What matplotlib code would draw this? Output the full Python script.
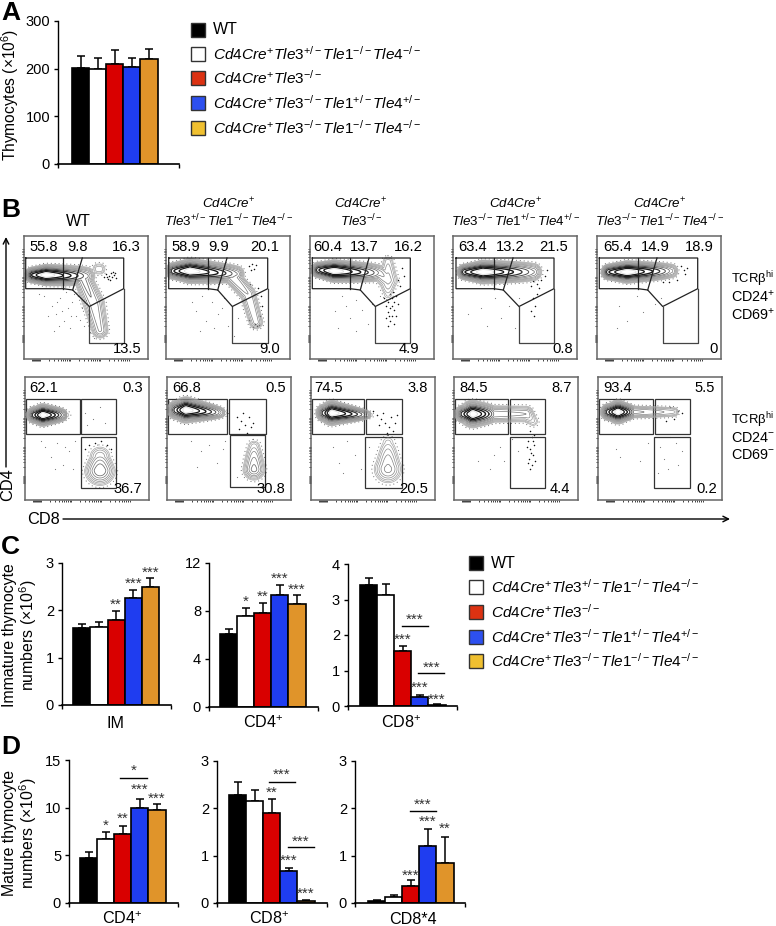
import numpy as np
import matplotlib
matplotlib.use("Agg")
import matplotlib.pyplot as plt
from matplotlib.patches import Rectangle

plt.rcParams["font.family"] = ["Liberation Sans", "DejaVu Sans"]
plt.rcParams["mathtext.fontset"] = "custom"
plt.rcParams["mathtext.rm"] = "Liberation Sans"
plt.rcParams["mathtext.it"] = "Liberation Sans:italic"
plt.rcParams["mathtext.bf"] = "Liberation Sans:bold"

W, H = 776, 926

# ---- genotype labels
wt = "WT"
g_het = r"$\mathit{Cd4Cre}^{+}\mathit{Tle3}^{+/-}\mathit{Tle1}^{-/-}\mathit{Tle4}^{-/-}$"
g_ko3 = r"$\mathit{Cd4Cre}^{+}\mathit{Tle3}^{-/-}$"
g_dbl = r"$\mathit{Cd4Cre}^{+}\mathit{Tle3}^{-/-}\mathit{Tle1}^{+/-}\mathit{Tle4}^{+/-}$"
g_tko = r"$\mathit{Cd4Cre}^{+}\mathit{Tle3}^{-/-}\mathit{Tle1}^{-/-}\mathit{Tle4}^{-/-}$"
legend_labels = [wt, g_het, g_ko3, g_dbl, g_tko]

bar_colors = ["#000000", "#ffffff", "#d90000", "#1f3df0", "#e0942a"]
legend_colors = ["#000000", "#ffffff", "#dc3212", "#2d50f0", "#f0c030"]

# ---- panel A
a_vals = [201, 199, 209, 203, 220]
a_tops = [226, 222, 240, 222, 242]

# ---- panel C
c_im_vals = [1.62, 1.64, 1.79, 2.26, 2.49]
c_im_tops = [1.72, 1.75, 1.98, 2.42, 2.68]
c_cd4_vals = [6.1, 7.6, 7.85, 9.35, 8.55]
c_cd4_tops = [6.5, 8.25, 8.65, 10.15, 9.3]
c_cd8_vals = [3.4, 3.13, 1.54, 0.25, 0.03]
c_cd8_tops = [3.6, 3.43, 1.7, 0.3, 0.05]

# ---- panel D
d_cd4_vals = [4.7, 6.75, 7.2, 9.95, 9.75]
d_cd4_tops = [5.3, 7.45, 8.1, 10.9, 10.35]
d_cd8_vals = [2.28, 2.15, 1.9, 0.68, 0.04]
d_cd8_tops = [2.55, 2.38, 2.2, 0.74, 0.06]
d_cd84_vals = [0.05, 0.13, 0.35, 1.21, 0.85]
d_cd84_tops = [0.07, 0.17, 0.48, 1.57, 1.4]

# ---- panel B percentages, (text, x inside frame)
top_row_pcts = [
    [("55.8", 19.3), ("9.8", 53), ("16.3", 102), ("13.5", 103)],
    [("58.9", 19.7), ("9.9", 52.7), ("20.1", 99), ("9.0", 103.7)],
    [("60.4", 18), ("13.7", 54.7), ("16.2", 98), ("4.9", 98.7)],
    [("63.4", 20), ("13.2", 57), ("21.5", 100.7), ("0.8", 110)],
    [("65.4", 20.7), ("14.9", 58), ("18.9", 102.7), ("0", 116.3)],
]
bottom_row_pcts = [
    [("62.1", 19), ("0.3", 107.7), ("36.7", 103.3)],
    [("66.8", 19.3), ("0.5", 108.7), ("30.8", 104.3)],
    [("74.5", 17.7), ("3.8", 106.7), ("20.5", 102.7)],
    [("84.5", 19.7), ("8.7", 107.3), ("4.4", 106)],
    [("93.4", 20), ("5.5", 106.7), ("0.2", 108.3)],
]

# gates, in pixels inside each frame
top_gates = [
    (1.7, 39.3, 58.3, 48.7, 65.3, 99.7),
    (2.7, 42.3, 61, 51.7, 66.3, 101.7),
    (2.3, 40.3, 59, 50.3, 65.3, 100.3),
    (3, 41, 60, 50.3, 66, 101),
    (2.3, 41.3, 60, 50.7, 65.7, 100.7),
]
bottom_gates = [
    (1, 55, 56, 91.3, 55.7, 91.3, 59.7, 111.3),
    (1, 60, 62, 99, 63, 98, 58.3, 110),
    (1, 53, 55, 91, 54, 91, 59.7, 111.3),
    (1, 54.3, 56.3, 91.3, 55.7, 91.3, 59.7, 111.3),
    (1, 55, 57, 92, 56.3, 92, 59.7, 111.3),
]

# populations: x0, y0, x1, y1, width at start, width at end, weight at start, weight at end
top_pops = [
    [(9, 39, 22, 39, 2.8, 3.4, .55, 1), (22, 39, 62, 40, 3.4, 3.6, 1, .2), (58, 40, 70, 68, 3.6, 4.5, .2, .16),
     (70, 68, 76, 94, 4.5, 3.6, .16, .13), (74, 33, 76, 33, 3, 3, .05, .05)],
    [(8, 35, 24, 35, 3, 4, .5, 1), (24, 35, 70, 38, 4, 3.4, 1, .18), (64, 38, 82, 58, 3.4, 3.5, .18, .12),
     (82, 58, 90, 86, 3.5, 3.2, .12, .1)],
    [(9, 34, 24, 35, 2.8, 3.6, .5, 1), (24, 35, 70, 37, 3.6, 3.4, 1, .14), (78, 26, 78, 44, 3, 4.5, .05, .1),
     (70, 37, 78, 44, 3.4, 4.5, .14, .1), (78, 44, 78, 58, 4.5, 3, .1, .03)],
    [(12, 36, 30, 36, 2.8, 3.8, .5, 1), (30, 36, 80, 36, 3.8, 3.6, 1, .18)],
    [(12, 36, 30, 36, 2.8, 3.6, .5, 1), (30, 36, 74, 35, 3.6, 3, 1, .14)],
]
bottom_pops = [
    [(10, 38, 18, 38, 3, 3.6, .5, 1), (18, 38, 42, 38, 3.6, 2.4, 1, .02), (75, 80, 75, 93, 5, 6, .08, .25)],
    [(10, 33, 19, 33, 3.4, 4.2, .5, 1), (19, 33, 58, 36, 4.2, 2.2, 1, .02), (87, 70, 87, 92, 3.5, 4.5, .05, .2)],
    [(14, 36, 21, 36, 3.2, 4, .5, 1), (21, 36, 60, 38, 4, 1.8, 1, .02), (77, 66, 77, 92, 4, 6, .03, .14),
     (77, 92, 77, 99, 6, 4, .14, .05)],
    [(10, 37, 19, 37, 3.2, 4.4, .5, 1), (19, 37, 40, 37, 4.4, 3.5, 1, .16), (40, 37, 72, 37, 3.5, 3.5, .16, .12),
     (72, 37, 79, 44, 3.5, 3, .12, .04)],
    [(11, 35, 20, 35, 3, 3.8, .5, 1), (20, 35, 36, 35, 3.8, 2.6, 1, .14), (36, 35, 76, 35, 2.6, 2.4, .14, .06)],
]

# stray events, (x, y) inside each frame
top_dots = [
    [(28, 70), (32, 78), (36, 62), (40, 85), (44, 72), (48, 66), (52, 80), (55, 60), (58, 72),
     (60, 90), (35, 90), (30, 95), (46, 92), (50, 58), (62, 64), (42, 56), (38, 75), (24, 80),
     (56, 84), (64, 78), (20, 60), (15, 58), (66, 96), (70, 102), (33, 66), (47, 80)],
    [(30, 75), (36, 60), (40, 85), (46, 66), (52, 78), (58, 62), (62, 90), (34, 95), (48, 92),
     (26, 66), (66, 70), (72, 82), (68, 100), (56, 72)],
    [(25, 75), (32, 60), (40, 82), (46, 64), (52, 74), (58, 88), (28, 92), (62, 68), (36, 70),
     (70, 60), (46, 95)],
    [(15, 78), (28, 72), (42, 62), (48, 82), (56, 70), (62, 92), (34, 90), (66, 62)],
    [(22, 70), (30, 85), (40, 60), (46, 76), (58, 68), (20, 92), (64, 62)],
]
top_dark = [
    [(82, 38), (85, 40), (88, 41), (90, 39), (84, 43), (87, 37), (92, 42), (80, 41), (86, 44),
     (89, 36), (83, 41), (91, 37)],
    [(83, 30), (86, 28), (88, 33), (85, 34), (90, 29), (89, 88), (91, 90), (87, 91), (93, 89),
     (84, 48), (92, 52), (95, 60), (96, 70), (83, 84), (94, 80)],
    [(80, 58), (82, 62), (84, 66), (78, 66), (76, 70), (80, 72), (84, 74), (78, 76), (82, 80),
     (76, 82), (80, 85), (84, 88), (78, 90), (86, 60), (88, 68), (74, 62), (86, 80), (82, 70),
     (79, 80), (83, 56), (90, 50), (92, 32), (94, 40), (88, 44)],
    [(80, 45), (84, 48), (86, 52), (78, 50), (88, 44), (92, 40), (94, 34), (80, 62), (82, 70),
     (78, 75), (84, 58), (81, 80)],
    [(84, 30), (87, 34), (88, 38), (80, 44), (72, 46), (66, 46), (90, 32)],
]
bottom_dots = [
    [(20, 70), (26, 80), (32, 66), (38, 88), (44, 74), (50, 64), (48, 92), (30, 92), (16, 64),
     (60, 36), (68, 42), (75, 30), (80, 46), (62, 48), (40, 70)],
    [(24, 64), (34, 74), (42, 68), (50, 86), (56, 72), (30, 90), (58, 64), (70, 100)],
    [(22, 70), (28, 86), (36, 64), (44, 78), (50, 92), (58, 70), (32, 96)],
    [(24, 84), (40, 78), (46, 70), (50, 84), (58, 62), (36, 92), (64, 74)],
    [(18, 72), (22, 80), (42, 84), (50, 66), (62, 70), (66, 82), (72, 60), (78, 66), (84, 74),
     (70, 92), (60, 96), (80, 88)],
]
bottom_dark = [
    [(64, 68), (70, 66), (76, 64), (82, 68), (60, 72), (86, 72)],
    [(70, 40), (74, 44), (78, 48), (82, 40), (76, 36), (84, 50), (72, 52), (80, 56), (86, 46)],
    [(62, 34), (66, 38), (70, 42), (74, 46), (78, 50), (72, 36), (80, 40), (76, 56), (68, 48),
     (84, 46), (82, 54), (86, 38)],
    [(76, 54), (78, 60), (74, 64), (80, 68), (76, 72), (79, 78), (75, 82), (78, 88), (80, 58),
     (73, 70), (77, 76), (81, 84), (76, 92), (79, 64), (74, 86)],
    [(72, 30), (76, 42), (80, 34), (68, 44), (84, 36)],
]

# contour greys, outer to inner
contour_levels = [0.016, 0.024, 0.036, 0.055, 0.08, 0.12, 0.17, 0.25, 0.36, 0.5, 0.66, 0.82]
contour_greys = ["#a8a8a8", "#a0a0a0", "#989898", "#8e8e8e", "#848484", "#787878",
                 "#6a6a6a", "#505050", "#333333", "#1a1a1a", "#1a1a1a", "#e0e0e0"]
contour_widths = [0.5, 0.5, 0.5, 0.5, 0.5, 0.5, 0.55, 0.7, 0.9, 1.0, 0.9, 0.7]


def px_axes(left, top, right, bottom):
    return fig.add_axes([left / W, 1 - bottom / H, (right - left) / W, (bottom - top) / H])


def bars(left, top, right, bottom, bar0, vals, tops, ymax, yticks, star_labels=None, star_ys=None,
         sig=None):
    # bar0 is the left pixel of the first bar, each bar 17 px wide
    bw = 17.1
    ax = px_axes(left, top, right, bottom)
    x = np.arange(5)
    ax.bar(x, vals, width=1, color=bar_colors, edgecolor="black", linewidth=1.2, zorder=3)
    ax.errorbar(x, vals, yerr=[np.zeros(5), np.array(tops) - np.array(vals)], fmt="none",
                ecolor="black", elinewidth=1.1, capsize=2.6, capthick=1.1, zorder=2)
    xl = -0.5 - (bar0 - left) / bw
    xr = xl + (right - left) / bw
    ax.set_xlim(xl, xr)
    ax.set_ylim(0, ymax)
    ax.set_xticks([xl, xr])
    ax.set_xticklabels([])
    ax.set_yticks(yticks)
    ax.tick_params(axis="both", length=3.2, width=1, labelsize=10.5, pad=2.5)
    ax.spines["top"].set_visible(False)
    ax.spines["right"].set_visible(False)
    ax.spines["left"].set_linewidth(1)
    ax.spines["bottom"].set_linewidth(1.2)
    ax.spines["left"].set_zorder(5)
    ax.spines["bottom"].set_zorder(5)
    ax.patch.set_alpha(0)
    if star_labels:
        for xi, s, y in zip(x, star_labels, star_ys):
            if s:
                ax.text(xi, y, s, ha="center", va="center_baseline", fontsize=11, color="#333333",
                        clip_on=False)
    if sig:
        for x0, x1, y, ys, s in sig:
            ax.plot([x0, x1], [y, y], color="black", lw=1, clip_on=False)
            ax.text((x0 + x1) / 2, ys, s, ha="center", va="center_baseline", fontsize=11,
                    color="#333333", clip_on=False)
    return ax


def density(pops):
    xs, ys = np.meshgrid(np.arange(0, 124.5, 0.5), np.arange(0, 123.5, 0.5))
    field = np.zeros_like(xs)
    for x0, y0, x1, y1, w0, w1, a0, a1 in pops:
        dx, dy = x1 - x0, y1 - y0
        t = np.clip(((xs - x0) * dx + (ys - y0) * dy) / (dx * dx + dy * dy + 1e-9), 0, 1)
        d2 = (xs - x0 - t * dx) ** 2 + (ys - y0 - t * dy) ** 2
        w = 1.1 * (w0 + (w1 - w0) * t)
        field = np.maximum(field, (a0 + (a1 - a0) * t) * np.exp(-d2 / (2 * w * w)))
    return xs, ys, field


def flow_frame(left, top):
    ax = px_axes(left, top, left + 124, top + 123)
    ax.set_xlim(0, 124)
    ax.set_ylim(123, 0)
    for s in ax.spines.values():
        s.set_color("#666666")
        s.set_linewidth(1.1)
    # log style ticks
    dec = np.log10(np.arange(1, 10))
    xt = np.concatenate([a + 30 * dec for a in (16, 46, 76)] + [[8, 9, 10, 11, 12, 13, 14, 15]])
    yt = np.concatenate([a - 29 * dec for a in (99, 70, 41)] + [[100, 101, 102, 103, 104, 105, 106]])
    ax.set_xticks(xt[xt < 120])
    ax.set_yticks(yt[yt > 4])
    ax.set_xticklabels([])
    ax.set_yticklabels([])
    ax.tick_params(length=1.6, width=0.6, color="#222222", pad=1)
    return ax


def draw_flow(ax, pops, dots, dark):
    xs, ys, field = density(pops)
    ax.contour(xs, ys, field, levels=[0.007], colors="#333333", linewidths=0.7,
               linestyles=[(0, (1, 3))], alpha=0.7)
    ax.contour(xs, ys, field, levels=contour_levels, colors=contour_greys,
               linewidths=contour_widths, linestyles="solid")
    if dots:
        px, py = zip(*dots)
        ax.scatter(px, py, s=0.7, color="#777777", linewidths=0)
    if dark:
        px, py = zip(*dark)
        ax.scatter(px, py, s=1.2, color="#111111", linewidths=0)


fig = plt.figure(figsize=(W / 100, H / 100), dpi=100)

# overlay in pixel coordinates for the free text and arrows
over = fig.add_axes([0, 0, 1, 1], zorder=10)
over.set_xlim(0, W)
over.set_ylim(H, 0)
over.axis("off")
over.patch.set_alpha(0)

# ---- A
bars(58, 21, 179, 164, 72, a_vals, a_tops, 300, [0, 100, 200, 300])

# ---- C
bars(62, 563, 171, 705, 73.3, c_im_vals, c_im_tops, 3, [0, 1, 2, 3],
     ["", "", "**", "***", "***"], [0, 0, 2.15, 2.6, 2.83])
bars(209, 563, 318, 707, 220, c_cd4_vals, c_cd4_tops, 12, [0, 4, 8, 12],
     ["", "*", "**", "***", "***"], [0, 8.9, 9.33, 10.8, 9.9])
bars(348, 564, 457, 706, 360, c_cd8_vals, c_cd8_tops, 4, [0, 1, 2, 3, 4],
     ["", "", "***", "***", "***"], [0, 0, 1.92, 0.56, 0.22],
     [(1.96, 3.48, 2.25, 2.48, "***"), (2.9, 4.42, 0.93, 1.13, "***")])

# ---- D
bars(69, 760, 178, 903, 80, d_cd4_vals, d_cd4_tops, 15, [0, 5, 10, 15],
     ["", "*", "**", "***", "***"], [0, 8.3, 9.0, 12, 11.1],
     [(1.84, 3.42, 13.1, 14, "*")])
bars(217, 761, 327, 903, 229, d_cd8_vals, d_cd8_tops, 3, [0, 1, 2, 3],
     ["", "", "**", "***", "***"], [0, 0, 2.37, 0.93, 0.23],
     [(1.84, 3.36, 2.56, 2.73, "***"), (2.95, 4.47, 1.18, 1.33, "***")])
bars(355, 761, 465, 903, 368, d_cd84_vals, d_cd84_tops, 3, [0, 1, 2, 3],
     ["", "", "***", "***", "**"], [0, 0, 0.61, 1.75, 1.6],
     [(1.93, 3.45, 1.94, 2.11, "***")])

# ---- B flow plots
row_left = [24, 166, 310, 453, 597]
for i in range(5):
    # CD24+ CD69+ row
    ax = flow_frame(row_left[i], 236)
    draw_flow(ax, top_pops[i], top_dots[i], top_dark[i])
    x0, x1, x2, x3, x4, x5 = top_gates[i]
    gk = dict(color="#222222", lw=0.9, solid_joinstyle="miter")
    ax.plot([x0, x5, x5, x4, x3, x1, x0, x0], [22, 22, 52.7, 70.5, 54, 52.7, 52.7, 22], **gk)
    ax.plot([x1, x1], [22, 52.7], **gk)
    ax.plot([x2, x3], [22, 54], **gk)
    ax.plot([x4, x4, x5, x5], [70.5, 107, 107, 52.7], color="#444444", lw=0.9)
    pcts = top_row_pcts[i]
    for k, (s, px) in enumerate(pcts):
        ax.text(px, 113 if k == 3 else 11, s, ha="center", va="center", fontsize=10.6)

    # CD24- CD69- row
    ax = flow_frame(row_left[i] + 1, 377)
    draw_flow(ax, bottom_pops[i], bottom_dots[i], bottom_dark[i])
    a0, a1, b0, b1, c0, c1, c_top, c_bot = bottom_gates[i]
    for l, r, t, b in [(a0, a1, 21.7, 56.7), (b0, b1, 21.7, 56.7), (c0, c1, c_top, c_bot)]:
        ax.add_patch(Rectangle((l, t), r - l, b - t, fill=False, ec="#333333", lw=0.9))
    pcts = bottom_row_pcts[i]
    for k, (s, px) in enumerate(pcts):
        ax.text(px, 112 if k == 2 else 11, s, ha="center", va="center", fontsize=10.6)

# column titles
title_x = [78, 229, 361, 516, 660]
line1 = r"$\mathit{Cd4Cre}^{+}$"
line2 = [r"$\mathit{Tle3}^{+/-}\mathit{Tle1}^{-/-}\mathit{Tle4}^{-/-}$",
         r"$\mathit{Tle3}^{-/-}$",
         r"$\mathit{Tle3}^{-/-}\mathit{Tle1}^{+/-}\mathit{Tle4}^{+/-}$",
         r"$\mathit{Tle3}^{-/-}\mathit{Tle1}^{-/-}\mathit{Tle4}^{-/-}$"]
over.text(title_x[0], 221, "WT", ha="center", va="center", fontsize=11.5)
for tx, l2 in zip(title_x[1:], line2):
    over.text(tx, 204, line1, ha="center", va="center", fontsize=9.6)
    over.text(tx, 221, l2, ha="center", va="center", fontsize=9.6)

# right side labels
right_top = ["TCRβ$^{\\mathrm{hi}}$", "CD24$^{+}$", "CD69$^{+}$"]
right_bottom = ["TCRβ$^{\\mathrm{hi}}$", "CD24$^{-}$", "CD69$^{-}$"]
for lab, y in zip(right_top, [279, 297, 315]):
    over.text(731, y, lab, ha="left", va="center", fontsize=9.4 if "TCR" in lab else 10.4)
for lab, y in zip(right_bottom, [420, 438, 455]):
    over.text(731, y, lab, ha="left", va="center", fontsize=9.4 if "TCR" in lab else 10.4)

# CD4 / CD8 arrows
over.annotate("", xy=(6, 237), xytext=(6, 467),
              arrowprops=dict(arrowstyle="->", lw=1, color="black", shrinkA=0, shrinkB=0))
over.annotate("", xy=(730, 519), xytext=(63, 519),
              arrowprops=dict(arrowstyle="->", lw=1, color="black", shrinkA=0, shrinkB=0))
over.text(8, 485, "CD4", rotation=90, ha="center", va="center", fontsize=11.8)
over.text(44, 519, "CD8", ha="center", va="center", fontsize=11.8)

# panel letters
for s, y in zip("ABCD", [20, 217, 554, 754]):
    over.text(1, y, s, ha="left", va="baseline", fontsize=19, fontweight="bold")

# y labels
over.text(10, 95, r"Thymocytes (×10$^{6}$)", rotation=90, ha="center", va="center", fontsize=11.2)
over.text(10, 635, "Immature thymocyte", rotation=90, ha="center", va="center", fontsize=11.4)
over.text(28, 635, r"numbers (×10$^{6}$)", rotation=90, ha="center", va="center", fontsize=11.4)
over.text(10, 833, "Mature thymocyte", rotation=90, ha="center", va="center", fontsize=11.4)
over.text(28, 833, r"numbers (×10$^{6}$)", rotation=90, ha="center", va="center", fontsize=11.4)

# category labels
cat_x = [116, 263, 401]
cat_c = ["IM", "CD4$^{+}$", "CD8$^{+}$"]
for cx, s in zip(cat_x, cat_c):
    over.text(cx, 723, s, ha="center", va="center", fontsize=11.6)
cat_x = [122, 269, 413]
cat_d = ["CD4$^{+}$", "CD8$^{+}$", "CD8*4"]
for cx, s in zip(cat_x, cat_d):
    over.text(cx, 919, s, ha="center", va="center", fontsize=11.6)


def legend(x, ys):
    for lab, col, y in zip(legend_labels, legend_colors, ys):
        over.add_patch(Rectangle((x, y - 7), 14, 14, fc=col, ec="#333333", lw=1))
        over.text(x + 22, y, lab, ha="left", va="center", fontsize=11.5 if lab == wt else 11.1)


legend(191, [30, 54, 78, 103, 128])
legend(469, [563, 587, 612, 637, 661])

fig.savefig("out.png", dpi=100)
